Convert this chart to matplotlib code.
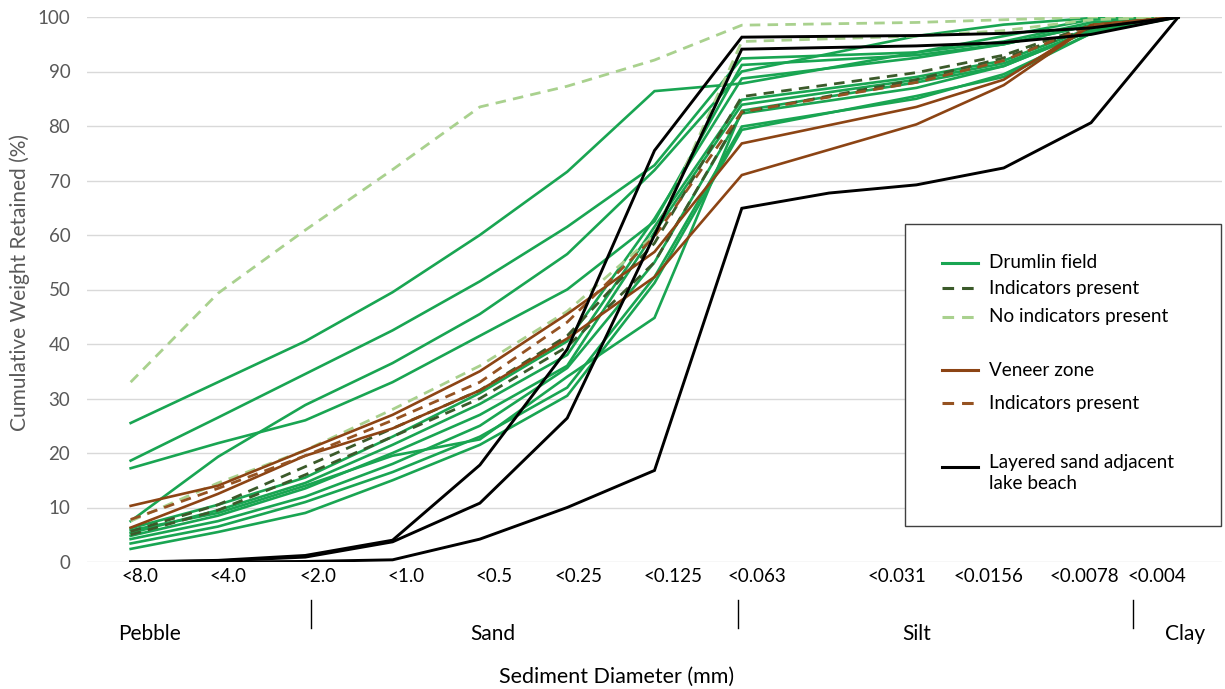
import numpy as np
import matplotlib.pyplot as plt
from matplotlib.lines import Line2D
from matplotlib.patches import Rectangle
from matplotlib import font_manager

W, H = 1225, 689
nan = np.nan

# sieve classes (13 columns, column 8 only measured for one sample)
size_labels = ['<8.0', '<4.0', '<2.0', '<1.0', '<0.5', '<0.25', '<0.125', '<0.063',
               '<0.031', '<0.0156', '<0.0078', '<0.004']
size_classes = ['Pebble', 'Sand', 'Silt', 'Clay']

# cumulative weight retained (%)
drumlin_field = [
    [25.5, 33.0, 40.5, 49.5, 60.0, 71.6, 86.4, 87.8, nan, 93.5, 96.5, 99.5, 100],
    [18.6, 26.5, 34.5, 42.5, 51.5, 61.5, 72.8, 92.4, nan, 93.5, 95.5, 99.0, 100],
    [17.2, 21.8, 26.0, 33.0, 41.5, 50.0, 62.5, 91.2, nan, 93.0, 95.0, 98.5, 100],
    [7.5, 19.3, 28.8, 36.5, 45.5, 56.5, 71.9, 90.0, nan, 96.5, 98.6, 99.8, 100],
    [6.2, 10.5, 15.5, 23.0, 31.0, 40.5, 63.0, 88.7, nan, 92.5, 95.0, 98.5, 100],
    [5.3, 9.5, 14.5, 21.5, 29.0, 38.0, 61.5, 84.8, nan, 89.0, 92.0, 98.0, 100],
    [4.8, 8.5, 13.5, 20.0, 27.0, 36.0, 60.5, 83.9, nan, 88.5, 91.5, 97.5, 100],
    [4.2, 7.5, 12.0, 18.0, 25.0, 35.6, 55.0, 82.3, nan, 87.0, 91.0, 97.5, 100],
    [3.4, 6.5, 11.0, 16.5, 23.0, 32.0, 52.3, 79.9, nan, 85.0, 89.5, 97.0, 100],
    [2.4, 5.5, 9.0, 15.0, 21.5, 30.5, 51.2, 79.3, nan, 85.5, 89.0, 97.0, 100],
    [5.8, 9.0, 14.0, 19.5, 22.5, 34.0, 44.8, 82.8, nan, 88.0, 91.0, 97.5, 100],
]
drumlin_indicators = [
    [5.6, 10.5, 17.5, 24.5, 31.5, 41.5, 58.5, 85.4, nan, 89.8, 93.0, 98.5, 100],
    [5.0, 9.5, 16.0, 23.0, 30.0, 39.5, 55.0, 82.5, nan, 88.5, 92.5, 98.0, 100],
]
drumlin_no_indicators = [
    [33.0, 49.3, 60.9, 72.0, 83.5, 87.3, 92.1, 98.5, nan, 99.0, 99.5, 100, 100],
    [7.5, 14.5, 20.5, 28.0, 36.0, 46.0, 60.0, 95.5, nan, 96.5, 97.5, 99.5, 100],
]
veneer_zone = [
    [10.3, 14.0, 20.5, 27.0, 35.0, 45.5, 56.9, 76.8, nan, 83.5, 88.5, 98.5, 100],
    [6.3, 12.5, 19.5, 24.5, 31.5, 41.0, 52.3, 71.0, nan, 80.3, 87.5, 98.5, 100],
]
veneer_indicators = [
    [7.8, 13.5, 19.5, 26.0, 33.0, 44.0, 59.7, 82.6, nan, 88.0, 92.0, 98.5, 100],
]
lake_beach = [
    [0, 0.3, 1.2, 4.0, 17.8, 39.0, 75.5, 96.3, nan, 96.6, 97.0, 98.0, 100],
    [0, 0.2, 0.9, 3.7, 10.8, 26.4, 60.0, 94.1, nan, 94.7, 95.3, 96.8, 100],
    [0, 0, 0.1, 0.4, 4.2, 10.0, 16.8, 64.9, 67.7, 69.2, 72.3, 80.6, 100],
]

installed = {f.name for f in font_manager.fontManager.ttflist}
main_font = 'Lato' if 'Lato' in installed else 'DejaVu Sans'
plt.rcParams['font.family'] = [main_font, 'DejaVu Sans']

GREEN = '#19A552'
DARK_GREEN = '#3B5A2A'
LIGHT_GREEN = '#A9D18E'
BROWN = '#8C4414'
BROWN_DASH = '#955221'
GREY = '#595959'
dash = (0, (3.8, 2.6))


def px(x, y):
    '''pixel position in the reference -> figure fraction'''
    return x / W, 1 - y / H


fig = plt.figure(figsize=(W / 100, H / 100), dpi=100)
ax = fig.add_axes([87 / W, (H - 562) / H, 1135 / W, 545 / H])

x = np.arange(13)


def draw(group, color, ls='-', lw=1.9):
    for row in group:
        y = np.array(row, dtype=float)
        ok = ~np.isnan(y)
        ax.plot(x[ok], y[ok], color=color, ls=ls, lw=lw, solid_joinstyle='miter')


draw(drumlin_field, GREEN)
draw(drumlin_no_indicators, LIGHT_GREEN, dash, 2.0)
draw(drumlin_indicators, DARK_GREEN, dash, 2.0)
draw(veneer_zone, BROWN)
draw(veneer_indicators, BROWN_DASH, dash, 2.0)
draw(lake_beach, 'black', '-', 2.1)

ax.set_xlim(-0.5, 12.5)
ax.set_ylim(0, 100)
ax.set_yticks(range(0, 101, 10))
ax.set_xticks([])
ax.grid(axis='y', color='#D9D9D9', lw=1)
ax.set_axisbelow(True)
for s in ax.spines.values():
    s.set_visible(False)
ax.tick_params(axis='y', length=0, pad=12, labelsize=13.5, labelcolor=GREY)

# size class labels under the axis (text box in the original)
label_x = [140, 228, 318, 406, 494, 578, 673, 757, 897, 988, 1084, 1157]
for lx, lab in zip(label_x, size_labels):
    fig.text(*px(lx, 577), lab, ha='center', va='center', fontsize=13.5)

for bx in [311, 738, 1133]:
    fig.add_artist(Line2D([bx / W, bx / W], [1 - 600 / H, 1 - 628 / H],
                          color='black', lw=1))
for cx, lab in zip([150, 493, 917, 1185], size_classes):
    fig.text(*px(cx, 634), lab, ha='center', va='center', fontsize=15)

fig.text(*px(617, 677), 'Sediment Diameter (mm)', ha='center', va='center', fontsize=15.5)
fig.text(*px(20, 282), 'Cumulative Weight Retained (%)', ha='center', va='center',
         rotation=90, fontsize=15, color=GREY)

# legend box
fig.add_artist(Rectangle(px(905, 526), 316 / W, 302 / H, fill=True, facecolor='white',
                         edgecolor='#404040', lw=1, transform=fig.transFigure))
entries = [
    (263, GREEN, '-', 'Drumlin field', 263),
    (288, DARK_GREEN, dash, 'Indicators present', 288),
    (317, LIGHT_GREEN, dash, 'No indicators present', 317),
    (370, BROWN, '-', 'Veneer zone', 370),
    (403, BROWN_DASH, dash, 'Indicators present', 403),
    (467, 'black', '-', 'Layered sand adjacent\nlake beach', 473),
]
for ly, col, ls, lab, ty in entries:
    fig.add_artist(Line2D([942 / W, 978 / W], [1 - ly / H, 1 - ly / H], color=col,
                          ls=ls, lw=2.2))
    fig.text(*px(989, ty), lab, ha='left', va='center', fontsize=13.6, linespacing=1.3)

fig.savefig('out.png', dpi=100)
